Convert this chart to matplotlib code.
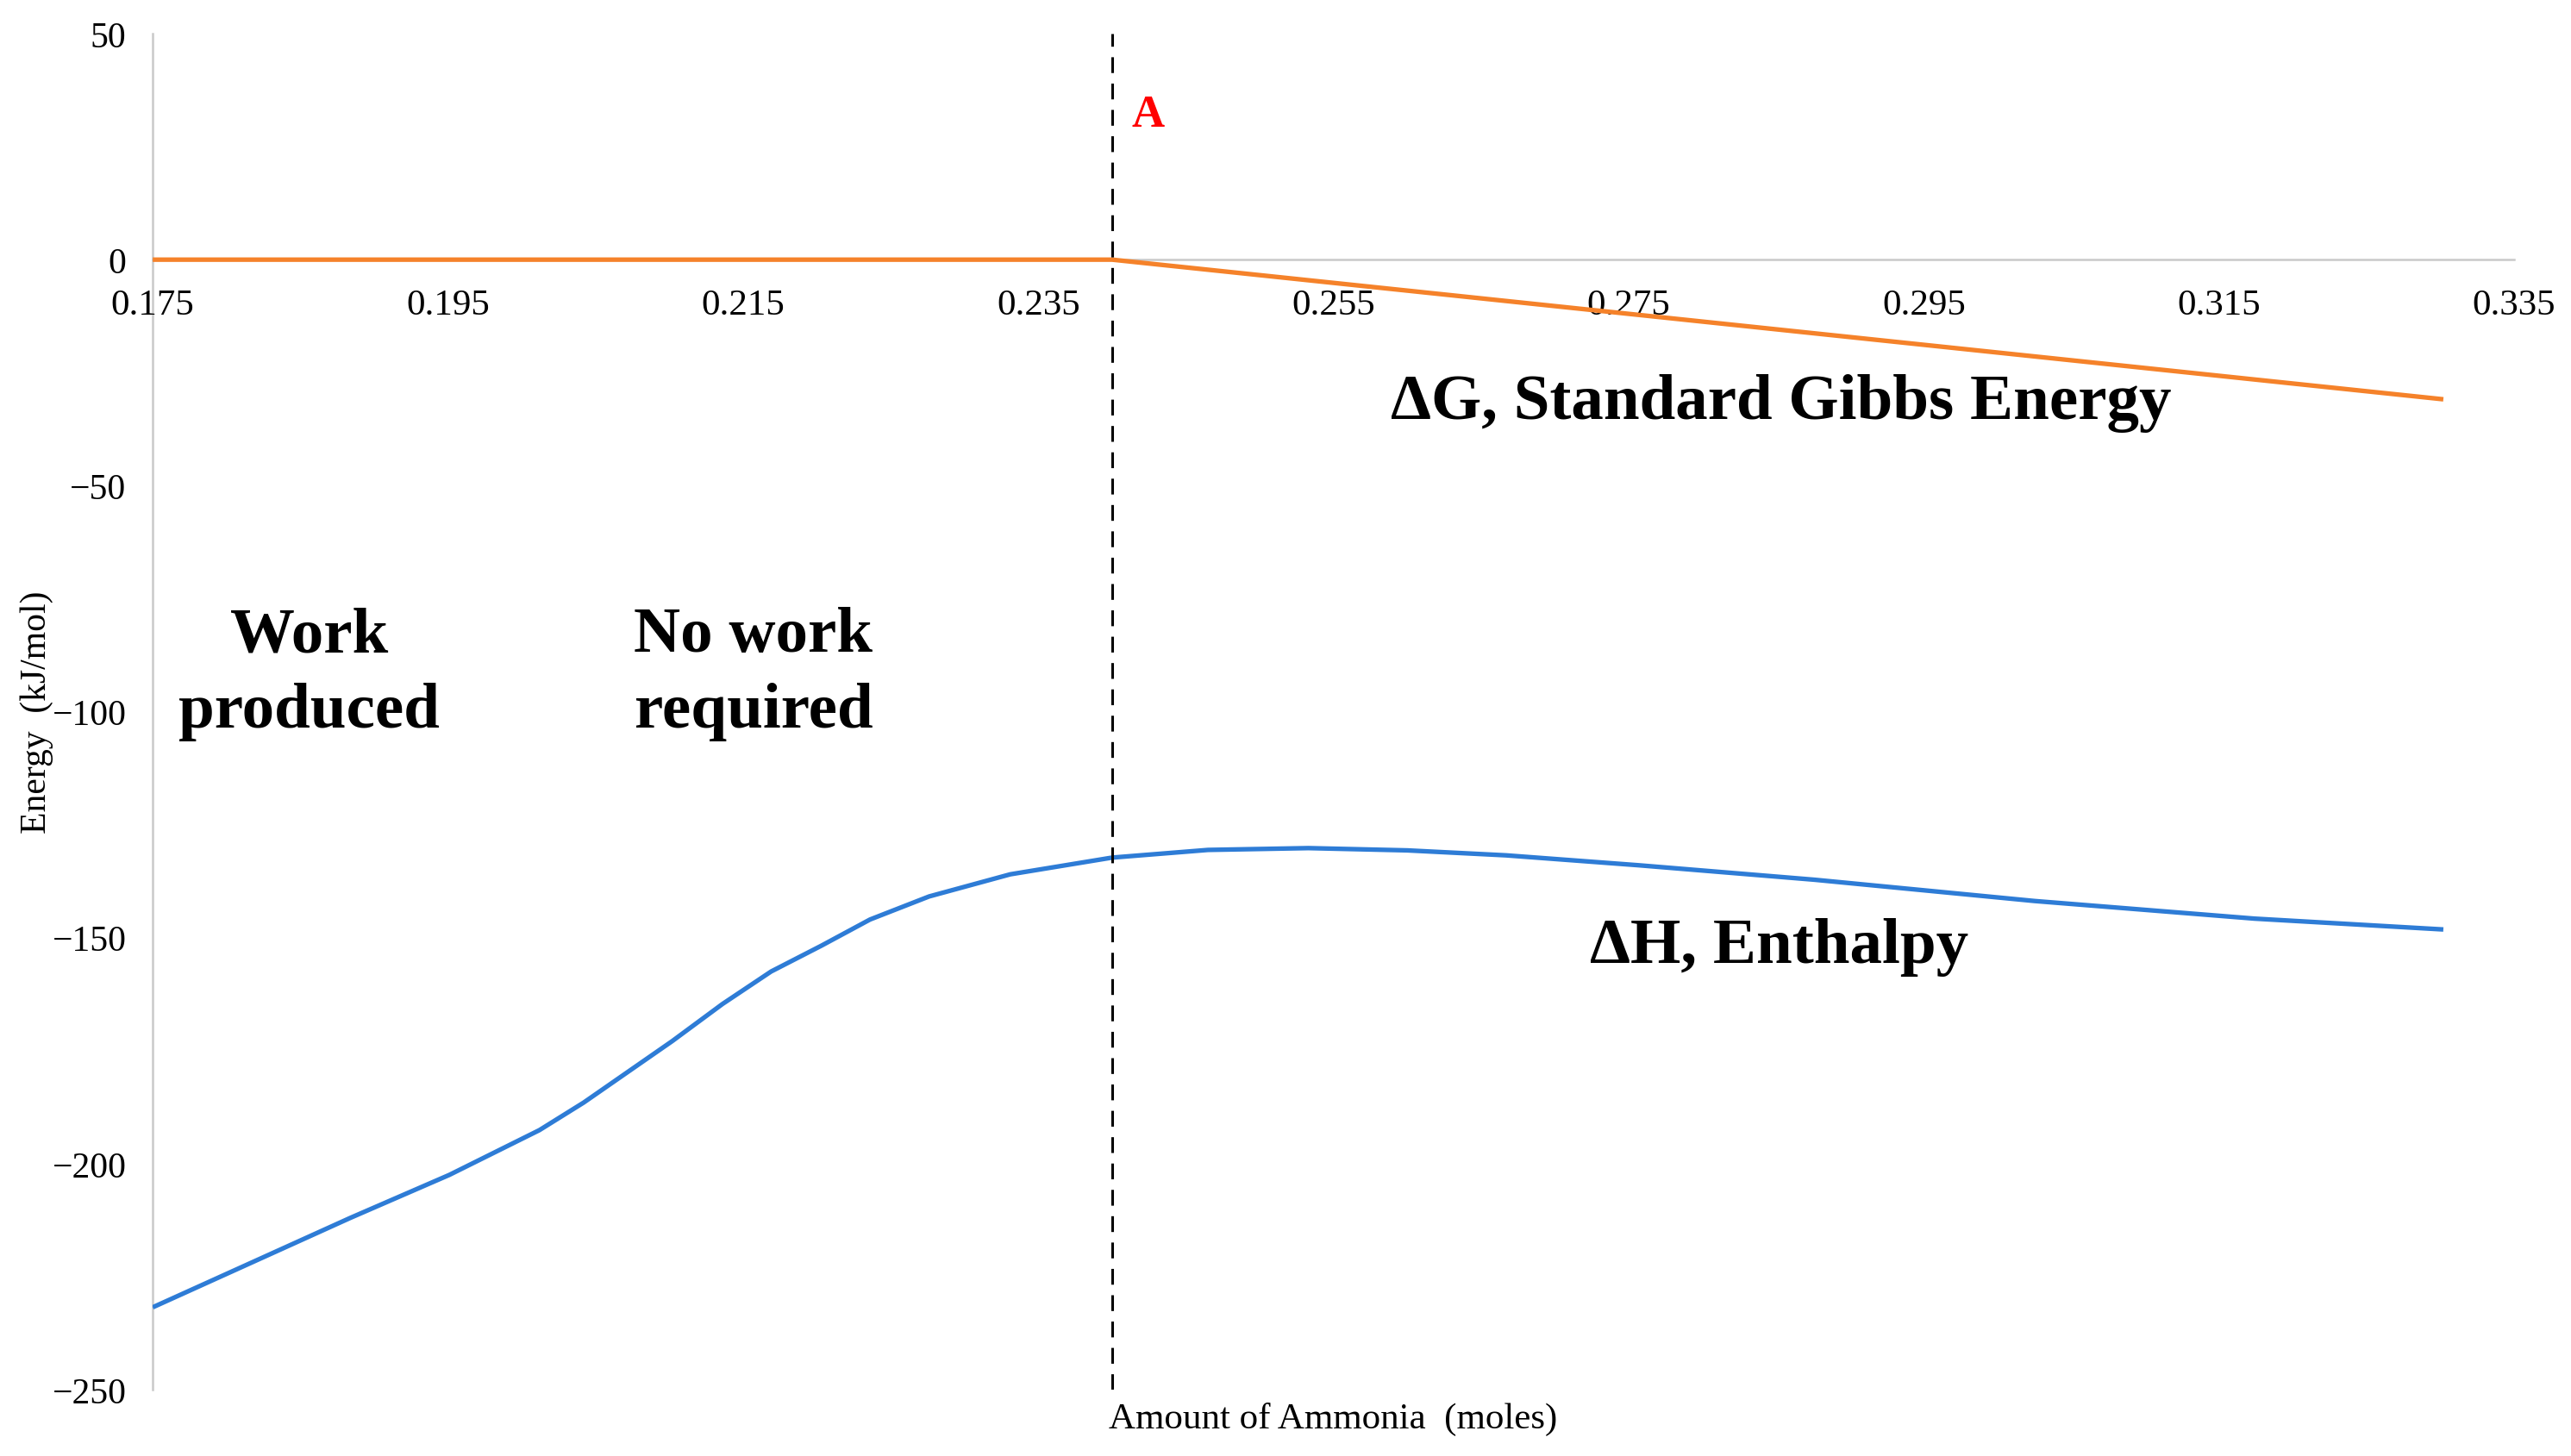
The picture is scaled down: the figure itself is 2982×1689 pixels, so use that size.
import matplotlib.pyplot as plt

plt.rcParams['font.family'] = ['Liberation Serif', 'DejaVu Serif']

ammonia_h = [0.1750, 0.1817, 0.1884, 0.1951, 0.2012, 0.2042, 0.2072, 0.2102,
             0.2136, 0.2169, 0.2203, 0.2236, 0.2276, 0.2331, 0.2400, 0.2465,
             0.2533, 0.2600, 0.2667, 0.2757, 0.2876, 0.3025, 0.3174, 0.3302]
enthalpy = [-231.8, -221.9, -212.0, -202.5, -192.6, -186.5, -179.7, -172.9,
            -164.7, -157.5, -151.8, -146.0, -140.9, -136.0, -132.3, -130.6,
            -130.2, -130.7, -131.8, -134.0, -137.2, -141.9, -145.8, -148.2]

ammonia_g = [0.175, 0.240, 0.3302]
gibbs = [0.0, 0.0, -30.9]

point_a = 0.240
x_ticks = [0.175, 0.195, 0.215, 0.235, 0.255, 0.275, 0.295, 0.315, 0.335]
y_ticks = [-250, -200, -150, -100, -50, 0, 50]

fig = plt.figure(figsize=(14.91, 8.45), dpi=200)
ax = fig.add_axes([0.0594, 0.0456, 0.9185, 0.9307])

ax.plot(ammonia_g, gibbs, color='#F5822A', lw=1.9, solid_capstyle='butt')
ax.plot(ammonia_h, enthalpy, color='#2E7CD6', lw=1.9, solid_capstyle='butt',
        solid_joinstyle='round')
ax.axvline(point_a, color='black', lw=1.1, linestyle=(0, (6, 4)))

ax.set_xlim(0.175, 0.335)
ax.set_ylim(-250, 50)
ax.set_xticks(x_ticks)
ax.set_xticklabels(['%.3f' % t for t in x_ticks])
ax.set_yticks(y_ticks)

for s in ['top', 'right']:
    ax.spines[s].set_visible(False)
ax.spines['bottom'].set_position(('data', 0))
for s in ['bottom', 'left']:
    ax.spines[s].set_color('#c9c9c9')
    ax.spines[s].set_linewidth(0.9)
    ax.spines[s].set_zorder(0)

ax.tick_params(axis='x', length=0, pad=12, labelsize=15.5)
ax.tick_params(axis='y', length=0, pad=11, labelsize=15)

ax.set_xlabel('Amount of Ammonia  (moles)', fontsize=15.5, va='top')
ax.xaxis.set_label_coords(0.5, -0.009)
ax.set_ylabel('Energy  (kJ/mol)', fontsize=15)
ax.yaxis.set_label_coords(-0.042, 0.5)

big = dict(fontsize=27, fontweight='bold', ha='center', va='center')
ax.text(0.2853, -31.7, '\u0394G, Standard Gibbs Energy', **big)
ax.text(0.2852, -152, '\u0394H, Enthalpy', **big)
ax.text(0.1856, -91.5, 'Work\nproduced', linespacing=1.38, **big)
ax.text(0.2157, -91.5, 'No work\nrequired', linespacing=1.38, **big)
ax.text(0.2413, 32, 'A', color='red', fontsize=19, fontweight='bold',
        ha='left', va='center')

fig.savefig('out.png', dpi=200)
